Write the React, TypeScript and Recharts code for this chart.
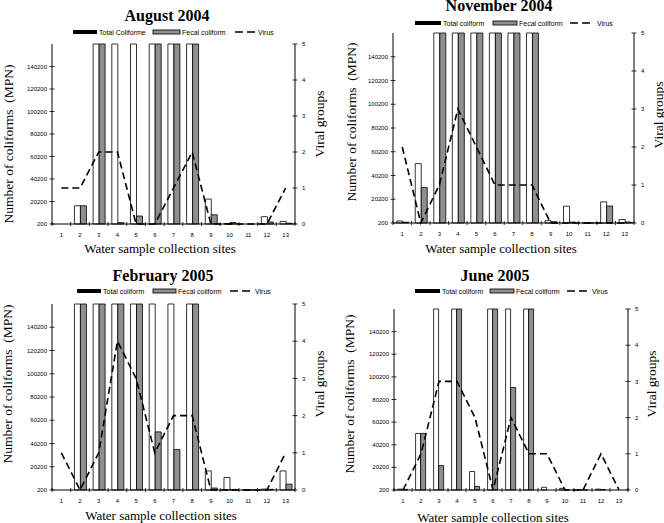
import React from 'react';
import { ComposedChart, Bar, Line, XAxis, YAxis } from 'recharts';

// ---------- data ----------
const sites = ['1', '2', '3', '4', '5', '6', '7', '8', '9', '10', '11', '12', '13'];
const coliformTicks = [200, 20200, 40200, 60200, 80200, 100200, 120200, 140200];
const virusTicks = [0, 1, 2, 3, 4, 5];

const panelTitles = ['August 2004', 'November 2004', 'February 2005', 'June 2005'];
const totalLabels = ['Total Coliforme', 'Total coliform', 'Total coliform', 'Total coliform'];
const fecalLabel = 'Fecal coliform';
const virusLabel = 'Virus';
const xTitle = 'Water sample collection sites';
const yTitle = 'Number of coliforms  (MPN)';
const y2Title = 'Viral groups';

const aug04Total = [0, 16400, 160200, 160200, 160200, 160200, 160200, 160200, 22350, 600, 0, 6700, 2500];
const aug04Fecal = [0, 16400, 160200, 1400, 7300, 160200, 160200, 160200, 8400, 1600, 0, 2000, 900];
const aug04Virus = [1, 1, 2, 2, 0, 0, 1, 2, 0, 0, 0, 0, 1];

const nov04Total = [1900, 50200, 160200, 160200, 160200, 160200, 160200, 160200, 2200, 14350, 300, 18000, 3100];
const nov04Fecal = [900, 30200, 160200, 160200, 160200, 160200, 160200, 160200, 1300, 1000, 300, 14500, 1000];
const nov04Virus = [2, 0, 1, 3, 2, 1, 1, 1, 0, 0, 0, 0, 0];

const feb05Total = [0, 160200, 160200, 160200, 160200, 160200, 160200, 160200, 16600, 10900, 300, 1000, 16600];
const feb05Fecal = [0, 160200, 160200, 160200, 160200, 50200, 35000, 160200, 1900, 700, 300, 800, 5300];
const feb05Virus = [1, 0, 1, 4, 3, 1, 2, 2, 0, 0, 0, 0, 1];

const jun05Total = [1000, 50200, 160200, 160200, 16600, 160200, 160200, 160200, 2600, 1600, 300, 1000, 0];
const jun05Fecal = [800, 50200, 21800, 160200, 3400, 160200, 90800, 160200, 0, 500, 300, 600, 0];
const jun05Virus = [0, 1, 3, 3, 2, 0, 2, 1, 1, 0, 0, 1, 0];

const buildRows = (total: number[], fecal: number[], virus: number[]) =>
  sites.map((s, i) => ({ site: s, total: total[i] || null, fecal: fecal[i] || null, virus: virus[i] }));

const panelRows = [
  buildRows(aug04Total, aug04Fecal, aug04Virus),
  buildRows(nov04Total, nov04Fecal, nov04Virus),
  buildRows(feb05Total, feb05Fecal, feb05Virus),
  buildRows(jun05Total, jun05Fecal, jun05Virus),
];

// ---------- layout ----------
// legend: [swatch1 x, text1 x, swatch2 x, text2 x, dash x, text3 x, y]
const layouts = [
  { plot: [52, 44, 295, 224], title: [167, 15], legend: [73, 99, 153, 182, 235, 258, 32], xt: [160, 248], yt: [8, 144], rt: [319, 124] },
  { plot: [393, 33, 634, 223], title: [499, 5], legend: [415, 443, 493, 519, 570, 597, 23], xt: [501, 248], yt: [351, 122], rt: [658, 115] },
  { plot: [52, 304, 295, 490], title: [163, 275], legend: [77, 103, 153, 178, 230, 255, 291], xt: [161, 515], yt: [7, 384], rt: [319, 384] },
  { plot: [394, 309, 628, 490], title: [495, 275], legend: [415, 442, 490, 516, 567, 592, 291], xt: [493, 517], yt: [349, 394], rt: [651, 384] },
];

const SANS = '"Liberation Sans", Arial, sans-serif';
const SERIF = '"Liberation Serif", "Times New Roman", serif';
const GREY = '#8f8f8f';

function Panel({ rows, layout }: { rows: any[]; layout: any }) {
  const [l, t, r, b] = layout.plot;
  const YW = 40;
  const MT = 6;
  const XH = 20;
  const pw = r - l;
  const band = pw / sites.length;

  const XTick = (props: any) => {
    const { x, y, payload, index } = props;
    return (
      <g>
        <line x1={x - band / 2} x2={x - band / 2} y1={y - 2} y2={y + 2} stroke="#000" strokeWidth={0.8} />
        {index === sites.length - 1 && (
          <line x1={x + band / 2} x2={x + band / 2} y1={y - 2} y2={y + 2} stroke="#000" strokeWidth={0.8} />
        )}
        <text x={x} y={y + 13} textAnchor="middle" fontSize={6} fontFamily={SANS} fill="#000">
          {payload.value}
        </text>
      </g>
    );
  };
  const LeftTick = (props: any) => {
    const { x, y, payload } = props;
    return (
      <g>
        <line x1={x - 2.5} x2={x + 2.5} y1={y} y2={y} stroke="#000" strokeWidth={0.8} />
        <text x={x - 5} y={y} dy="0.35em" textAnchor="end" fontSize={6} fontFamily={SANS} fill="#000">
          {payload.value}
        </text>
      </g>
    );
  };
  const RightTick = (props: any) => {
    const { x, y, payload } = props;
    return (
      <g>
        <line x1={x - 2.5} x2={x + 2.5} y1={y} y2={y} stroke="#000" strokeWidth={0.8} />
        <text x={x + 7} y={y} dy="0.35em" textAnchor="start" fontSize={6} fontFamily={SANS} fill="#000">
          {payload.value}
        </text>
      </g>
    );
  };

  return (
    <div style={{ position: 'absolute', left: l - YW, top: t - MT }}>
      <ComposedChart
        width={pw + 2 * YW}
        height={b - t + MT + XH}
        data={rows}
        margin={{ top: MT, right: 0, bottom: 0, left: 0 }}
        barCategoryGap="20%"
        barGap={0}
      >
        <XAxis
          dataKey="site"
          type="category"
          height={XH}
          interval={0}
          tickSize={0}
          tickMargin={0}
          tickLine={false}
          tick={XTick}
          axisLine={{ stroke: '#000', strokeWidth: 1 }}
        />
        <YAxis
          yAxisId="left"
          width={YW}
          domain={[200, 160200]}
          ticks={coliformTicks}
          interval={0}
          tickSize={0}
          tickMargin={0}
          tickLine={false}
          tick={LeftTick}
          axisLine={{ stroke: '#000', strokeWidth: 1 }}
        />
        <YAxis
          yAxisId="right"
          orientation="right"
          width={YW}
          domain={[0, 5]}
          ticks={virusTicks}
          interval={0}
          tickSize={0}
          tickMargin={0}
          tickLine={false}
          tick={RightTick}
          axisLine={{ stroke: '#000', strokeWidth: 1 }}
        />
        <Bar yAxisId="left" dataKey="total" fill="#ffffff" stroke="#000" strokeWidth={0.8} isAnimationActive={false} />
        <Bar yAxisId="left" dataKey="fecal" fill={GREY} stroke="#000" strokeWidth={0.8} isAnimationActive={false} />
        <Line
          yAxisId="right"
          dataKey="virus"
          type="linear"
          stroke="#000"
          strokeWidth={1.6}
          strokeDasharray="7 4"
          dot={false}
          activeDot={false}
          isAnimationActive={false}
        />
      </ComposedChart>
    </div>
  );
}

function LegendSvg({ lg, totalLabel }: { lg: number[]; totalLabel: string }) {
  const [s1, t1, s2, t2, d, t3, y] = lg;
  const txt = { fontSize: 7, fontFamily: SANS, fill: '#000', dominantBaseline: 'central' as const };
  return (
    <g>
      <rect x={s1} y={y - 2} width={t1 - s1 - 2} height={4} fill="#000" />
      <text x={t1} y={y} {...txt}>{totalLabel}</text>
      <rect x={s2} y={y - 2} width={t2 - s2 - 2} height={4} fill={GREY} stroke="#111" strokeWidth={0.9} />
      <text x={t2} y={y} {...txt}>{fecalLabel}</text>
      <line x1={d} x2={t3 - 3} y1={y} y2={y} stroke="#000" strokeWidth={1.5} strokeDasharray="8 4" />
      <text x={t3} y={y} {...txt}>{virusLabel}</text>
    </g>
  );
}

export default function App() {
  return (
    <div
      style={{
        position: 'absolute',
        left: 0,
        top: 0,
        width: 664,
        height: 523,
        background: '#fff',
        overflow: 'hidden',
      }}
    >
      {layouts.map((lay, i) => (
        <Panel key={i} rows={panelRows[i]} layout={lay} />
      ))}
      <svg width={664} height={523} style={{ position: 'absolute', left: 0, top: 0, pointerEvents: 'none' }}>
        {layouts.map((lay, i) => (
          <g key={'t' + i}>
            <LegendSvg lg={lay.legend} totalLabel={totalLabels[i]} />
            <text
              x={lay.title[0]}
              y={lay.title[1]}
              textAnchor="middle"
              dominantBaseline="central"
              fontFamily={SERIF}
              fontWeight="bold"
              fontSize={16}
              fill="#000"
            >
              {panelTitles[i]}
            </text>
            <text
              x={lay.xt[0]}
              y={lay.xt[1]}
              textAnchor="middle"
              dominantBaseline="central"
              fontFamily={SERIF}
              fontSize={13}
              fill="#000"
            >
              {xTitle}
            </text>
            <text
              transform={`translate(${lay.yt[0]},${lay.yt[1]}) rotate(-90)`}
              textAnchor="middle"
              dominantBaseline="central"
              fontFamily={SERIF}
              fontSize={13.5}
              fill="#000"
              style={{ whiteSpace: 'pre' }}
            >
              {yTitle}
            </text>
            <text
              transform={`translate(${lay.rt[0]},${lay.rt[1]}) rotate(-90)`}
              textAnchor="middle"
              dominantBaseline="central"
              fontFamily={SERIF}
              fontSize={13.5}
              fill="#000"
            >
              {y2Title}
            </text>
          </g>
        ))}
      </svg>
    </div>
  );
}
